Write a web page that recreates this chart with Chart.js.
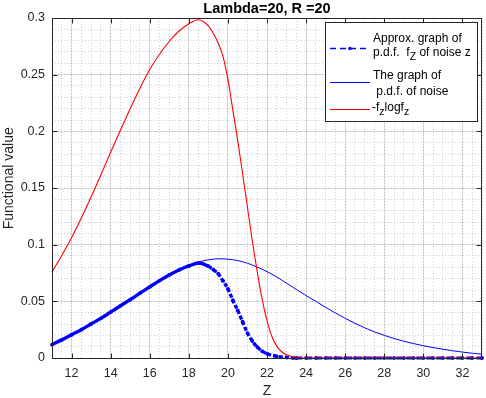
<!DOCTYPE html>
<html>
<head>
<meta charset="utf-8">
<script src="https://cdn.jsdelivr.net/npm/chart.js@4.4.0/dist/chart.umd.min.js"></script>
<style>
  html, body { margin: 0; padding: 0; background: #fff; }
  #noiseChart { display: block; }
</style>
</head>
<body>
<canvas id="noiseChart" width="486" height="398"></canvas>
<script>
// values
const zApprox = [11, 11.5, 12, 12.5, 13, 13.5, 14, 14.5, 15, 15.5, 16, 16.5, 17, 17.5, 18, 18.5,
  19, 19.25, 19.5, 19.75, 20, 20.25, 20.5, 20.75, 21, 21.25, 21.5, 21.75, 22, 22.5, 23,
  23.5, 24, 24.5, 25, 25.5, 26, 26.5, 27, 27.5, 28, 28.5, 29, 29.5, 30, 30.5, 31, 31.5, 32, 32.5, 33];
const fApprox = [0.0118, 0.016, 0.0205, 0.025, 0.030, 0.035, 0.0405, 0.046, 0.0515, 0.0572, 0.0628, 0.0683, 0.0733, 0.0777, 0.0812, 0.0838,
  0.081, 0.078, 0.0745, 0.068, 0.061, 0.051, 0.042, 0.032, 0.022, 0.015, 0.0097, 0.006, 0.0038, 0.0015, 0.0005,
  0, 0, 0, 0, 0, 0, 0, 0, 0, 0, 0, 0, 0, 0, 0, 0, 0, 0, 0, 0];

const zPdf = [11, 11.5, 12, 12.5, 13, 13.5, 14, 14.5, 15, 15.5, 16, 16.5, 17, 17.5, 18, 18.5, 19, 19.5, 20, 20.5,
  21, 21.5, 22, 22.5, 23, 23.5, 24, 24.5, 25, 25.5, 26, 26.5, 27, 27.5, 28, 28.5, 29, 29.5, 30, 30.5,
  31, 31.5, 32, 32.5, 33];
const fPdf = [0.0118, 0.016, 0.0205, 0.025, 0.030, 0.035, 0.0405, 0.046, 0.0515, 0.0572, 0.0628, 0.0683, 0.0733, 0.0779, 0.0818, 0.0848, 0.0866, 0.0875, 0.0872, 0.086,
  0.0836, 0.0802, 0.0762, 0.0715, 0.066, 0.0605, 0.055, 0.050, 0.0447, 0.0397, 0.035, 0.0306, 0.0266, 0.023, 0.020, 0.0172, 0.0148, 0.0127, 0.0108, 0.0092,
  0.0077, 0.0064, 0.0052, 0.0042, 0.0034];

const zEnt = [11, 11.5, 12, 12.5, 13, 13.5, 14, 14.5, 15, 15.5, 16, 16.5, 17, 17.5, 18, 18.5, 19,
  19.25, 19.5, 19.75, 20, 20.25, 20.5, 20.75, 21, 21.25, 21.5, 21.75, 22, 22.25, 22.5, 22.75, 23, 23.5,
  24, 25, 26, 27, 28, 29, 30, 31, 32, 33];
const fEnt = [0.076, 0.0905, 0.106, 0.1235, 0.142, 0.1615, 0.1815, 0.201, 0.220, 0.238, 0.2545, 0.268, 0.2795, 0.2885, 0.295, 0.2985, 0.293,
  0.2865, 0.278, 0.266, 0.246, 0.219, 0.192, 0.163, 0.133, 0.103, 0.076, 0.052, 0.033, 0.019, 0.0105, 0.0055, 0.0028, 0.0005,
  0, 0, 0, 0, 0, 0, 0, 0, 0, 0];

const xTicks = [12, 14, 16, 18, 20, 22, 24, 26, 28, 30, 32];
const yTicks = [0, 0.05, 0.1, 0.15, 0.2, 0.25, 0.3];

const FONT = "'Liberation Sans', Arial, Helvetica, sans-serif";
const AXIS = '#262626';
const MAJOR = 'rgba(38,38,38,0.13)';
const MINOR = 'rgba(38,38,38,0.22)';

function pts(xs, ys) {
  return xs.map((x, i) => ({ x: x, y: ys[i] }));
}

// box, inward ticks
const framePlugin = {
  id: 'frame',
  afterDatasetsDraw(chart) {
    const { ctx, chartArea: a, scales } = chart;
    const l = a.left + 0.5, r = a.right - 0.5, t = a.top + 0.5, b = a.bottom + 0.5;
    ctx.save();
    ctx.strokeStyle = AXIS;
    ctx.lineWidth = 1;
    ctx.beginPath();
    ctx.moveTo(l, t); ctx.lineTo(r, t); ctx.lineTo(r, b); ctx.lineTo(l, b); ctx.closePath();
    xTicks.forEach(v => {
      const px = Math.round(scales.x.getPixelForValue(v)) + 0.5;
      ctx.moveTo(px, b); ctx.lineTo(px, b - 5);
      ctx.moveTo(px, t); ctx.lineTo(px, t + 5);
    });
    yTicks.forEach(v => {
      const py = Math.round(scales.y.getPixelForValue(v)) + 0.5;
      ctx.moveTo(l, py); ctx.lineTo(l + 5, py);
      ctx.moveTo(r, py); ctx.lineTo(r - 5, py);
    });
    ctx.stroke();
    ctx.restore();
  }
};

function runs(ctx, x, y, parts) {
  parts.forEach(p => {
    ctx.font = p[1] ? '10.5px ' + FONT : '12px ' + FONT;
    ctx.fillText(p[0], x, p[1] ? y + 4 : y);
    x += ctx.measureText(p[0]).width;
  });
}

const legendPlugin = {
  id: 'boxLegend',
  afterDraw(chart) {
    const ctx = chart.ctx;
    ctx.save();
    ctx.fillStyle = '#fff';
    ctx.fillRect(325.5, 22.5, 152, 99);
    ctx.strokeStyle = AXIS;
    ctx.lineWidth = 1;
    ctx.strokeRect(325.5, 22.5, 152, 99);

    // samples
    ctx.strokeStyle = '#0000ff';
    ctx.lineWidth = 1.3;
    ctx.setLineDash([6, 4]);
    ctx.beginPath(); ctx.moveTo(330, 48.5); ctx.lineTo(370, 48.5); ctx.stroke();
    ctx.setLineDash([]);
    ctx.fillStyle = '#0000ff';
    ctx.beginPath(); ctx.arc(350, 48.5, 1.8, 0, Math.PI * 2); ctx.fill();
    ctx.lineWidth = 1;
    ctx.beginPath(); ctx.moveTo(330, 82.5); ctx.lineTo(370, 82.5); ctx.stroke();
    ctx.strokeStyle = '#ff0000';
    ctx.beginPath(); ctx.moveTo(330, 109.5); ctx.lineTo(370, 109.5); ctx.stroke();

    ctx.fillStyle = '#000';
    ctx.textBaseline = 'alphabetic';
    ctx.textAlign = 'left';
    runs(ctx, 373, 42, [['Approx. graph of']]);
    runs(ctx, 373, 56, [['p.d.f.  f'], ['Z', true], [' of noise z']]);
    runs(ctx, 373, 79, [['The graph of']]);
    runs(ctx, 373, 95, [[' p.d.f. of noise']]);
    runs(ctx, 372, 111, [['-f'], ['z', true], ['logf'], ['z', true]]);
    ctx.restore();
  }
};

const ctx = document.getElementById('noiseChart').getContext('2d');

const noiseChart = new Chart(ctx, {
  type: 'line',
  data: {
    datasets: [{
      label: 'Approx. graph of p.d.f. f_Z of noise z',
      data: pts(zApprox, fApprox),
      borderColor: '#0000ff',
      backgroundColor: '#0000ff',
      borderWidth: 3.4,
      pointRadius: 1.9,
      pointBorderWidth: 0,
      cubicInterpolationMode: 'monotone',
      clip: 6,
      order: 3,
      segment: {
        borderDash: c => (c.p0.parsed.y < 0.0004 ? [6, 4] : (c.p0.parsed.x >= 19 ? [4, 2] : undefined)),
        borderWidth: c => (c.p0.parsed.y < 0.0004 ? 3 : undefined)
      }
    }, {
      label: 'The graph of p.d.f. of noise',
      data: pts(zPdf, fPdf),
      borderColor: '#0000ff',
      borderWidth: 1,
      pointRadius: 0,
      cubicInterpolationMode: 'monotone',
      clip: 6,
      order: 2
    }, {
      label: '-f_z logf_z',
      data: pts(zEnt, fEnt),
      borderColor: '#ff0000',
      borderWidth: 1.1,
      pointRadius: 0,
      cubicInterpolationMode: 'monotone',
      clip: 6,
      order: 1
    }]
  },
  options: {
    responsive: false,
    animation: false,
    devicePixelRatio: 1,
    layout: { padding: { left: 0, right: 1, top: 0, bottom: 0 } },
    plugins: {
      legend: { display: false },
      tooltip: { enabled: false },
      title: {
        display: true,
        text: 'Lambda=20, R =20',
        fullSize: false,
        color: '#000',
        font: { family: FONT, size: 14.5, weight: 'bold', lineHeight: 1 },
        padding: { top: 2, bottom: 1.5 }
      }
    },
    scales: {
      xMinor: {
        type: 'linear', position: 'bottom', min: 11, max: 33,
        ticks: { display: false, stepSize: 0.5 },
        grid: { color: MINOR, drawTicks: false, borderDash: [1, 2] },
        border: { display: false, dash: [1, 2] },
        afterFit: s => { s.height = 0; }
      },
      yMinor: {
        type: 'linear', position: 'left', min: 0, max: 0.3,
        ticks: { display: false, stepSize: 0.01 },
        grid: { color: MINOR, drawTicks: false, borderDash: [1, 2] },
        border: { display: false, dash: [1, 2] },
        afterFit: s => { s.width = 0; }
      },
      x: {
        type: 'linear', position: 'bottom', min: 11, max: 33,
        afterBuildTicks: s => { s.ticks = xTicks.map(v => ({ value: v })); },
        ticks: { color: AXIS, padding: 8, font: { family: FONT, size: 12.5 }, maxRotation: 0, callback: v => String(v) },
        grid: { color: MAJOR, drawTicks: false },
        border: { display: false },
        title: { display: true, text: 'Z', color: AXIS, font: { family: FONT, size: 14, lineHeight: 1 }, padding: { top: 0, bottom: 0 } },
        afterFit: s => { s.height = 40; }
      },
      y: {
        type: 'linear', position: 'left', min: 0, max: 0.3,
        afterBuildTicks: s => { s.ticks = yTicks.map(v => ({ value: v })); },
        ticks: { color: AXIS, padding: 7, font: { family: FONT, size: 12.5 }, callback: v => String(v) },
        grid: { color: MAJOR, drawTicks: false },
        border: { display: false },
        title: { display: true, text: '     Functional value', color: AXIS, font: { family: FONT, size: 14, lineHeight: 1 }, padding: { top: 2, bottom: 0 } },
        afterFit: s => { s.width = 52; }
      }
    }
  },
  plugins: [framePlugin, legendPlugin]
});
</script>
</body>
</html>
